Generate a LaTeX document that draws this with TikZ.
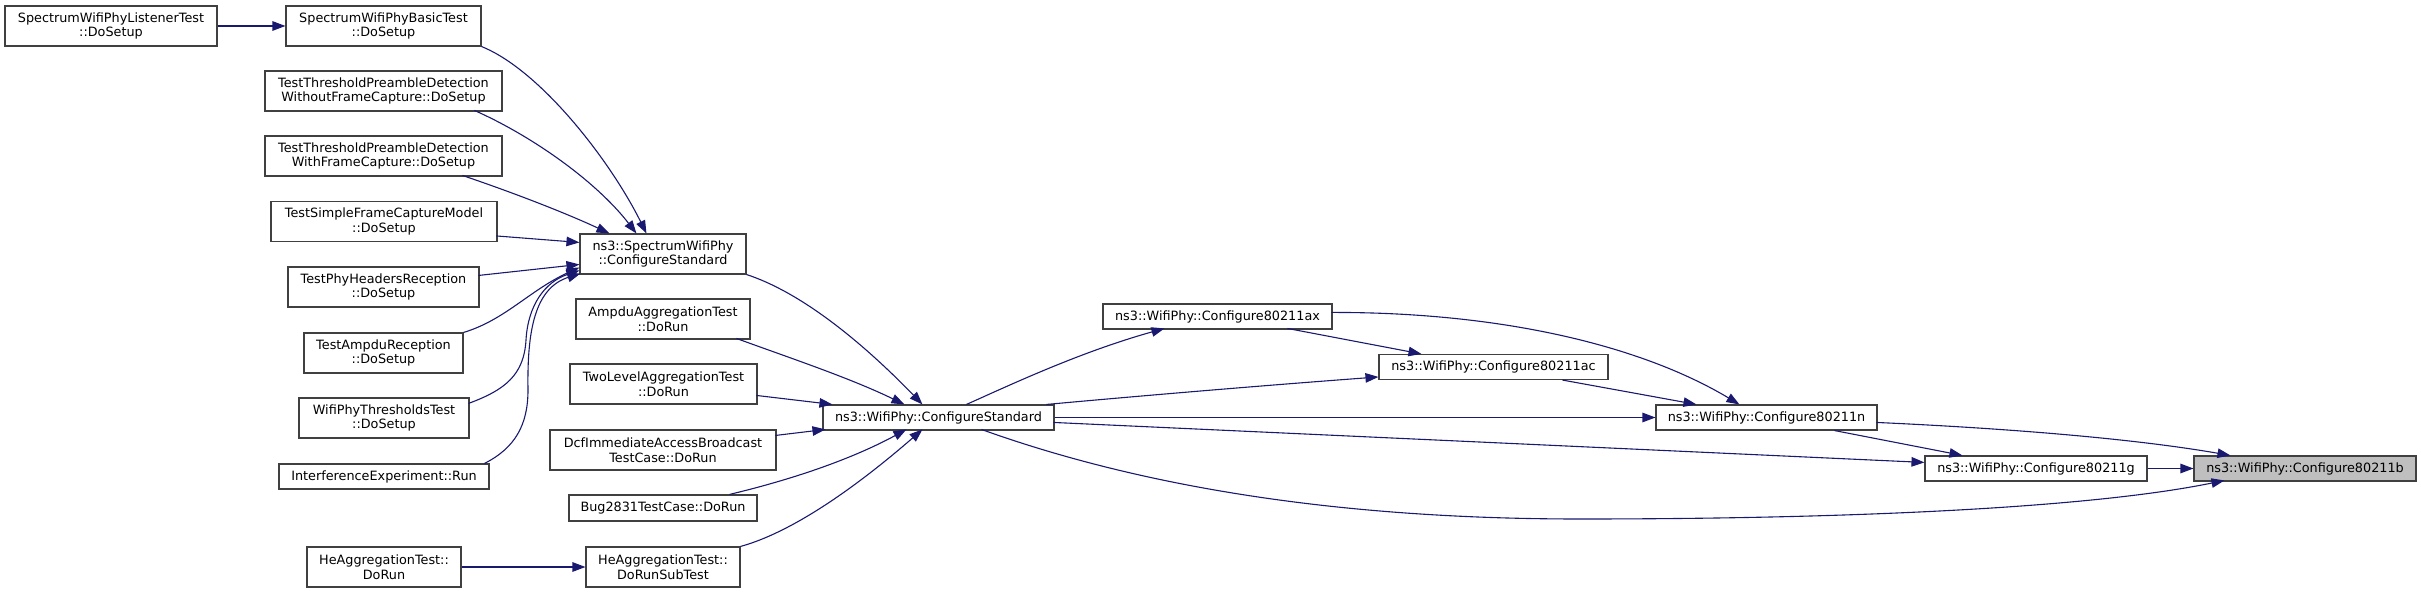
\documentclass[tikz,border=0pt]{standalone}
\usepackage{fontspec}
\setmainfont{DejaVu Sans}
\usetikzlibrary{arrows.meta,calc}
\definecolor{edgeblue}{RGB}{25,25,112}
\definecolor{boxline}{RGB}{64,64,64}
\definecolor{hlfill}{RGB}{191,191,191}
\tikzset{
  box/.style={draw=boxline, line width=1.1pt, fill=white, inner sep=0pt, align=center,
              font=\fontsize{12.8}{14.5}\selectfont},
  edge/.style={draw=edgeblue, line width=1.1pt, -{Triangle[length=13pt,width=9.5pt]}}
}
\begin{document}
\begin{tikzpicture}[x=1pt,y=-1pt]
\useasboundingbox (0,0) rectangle (2421,593);
% column 1
\node[box, minimum width=212pt, minimum height=40pt] (lis) at (111,26) {SpectrumWifiPhyListenerTest\\::DoSetup};
% column 2
\node[box, minimum width=195pt, minimum height=40pt] (basic) at (383.5,26) {SpectrumWifiPhyBasicTest\\::DoSetup};
\node[box, minimum width=237pt, minimum height=40pt] (wofc) at (383.5,91) {TestThresholdPreambleDetection\\WithoutFrameCapture::DoSetup};
\node[box, minimum width=237pt, minimum height=40pt] (wfc) at (383.5,156) {TestThresholdPreambleDetection\\WithFrameCapture::DoSetup};
\node[box, minimum width=226pt, minimum height=40pt] (simple) at (384,221.5) {TestSimpleFrameCaptureModel\\::DoSetup};
\node[box, minimum width=191pt, minimum height=40pt] (hdr) at (383.5,287) {TestPhyHeadersReception\\::DoSetup};
\node[box, minimum width=159pt, minimum height=40pt] (ampdurx) at (383.5,353) {TestAmpduReception\\::DoSetup};
\node[box, minimum width=170pt, minimum height=40pt] (thr) at (384,418) {WifiPhyThresholdsTest\\::DoSetup};
\node[box, minimum width=210pt, minimum height=25pt] (intf) at (384,476.5) {InterferenceExperiment::Run};
\node[box, minimum width=154pt, minimum height=40pt] (hedo) at (384,567) {HeAggregationTest::\\DoRun};
% column 3
\node[box, minimum width=166pt, minimum height=40pt] (spec) at (663,254) {ns3::SpectrumWifiPhy\\::ConfigureStandard};
\node[box, minimum width=174pt, minimum height=40pt] (ampagg) at (663,319) {AmpduAggregationTest\\::DoRun};
\node[box, minimum width=187pt, minimum height=40pt] (twolvl) at (663.5,384) {TwoLevelAggregationTest\\::DoRun};
\node[box, minimum width=226pt, minimum height=40pt] (dcf) at (663,450) {DcfImmediateAccessBroadcast\\TestCase::DoRun};
\node[box, minimum width=188pt, minimum height=26pt] (bug) at (663,508) {Bug2831TestCase::DoRun};
\node[box, minimum width=154pt, minimum height=40pt] (hesub) at (663,567) {HeAggregationTest::\\DoRunSubTest};
% right part
\node[box, minimum width=231pt, minimum height=25pt] (std) at (938.5,417.5) {ns3::WifiPhy::ConfigureStandard};
\node[box, minimum width=229pt, minimum height=25pt] (ax) at (1217.5,316.5) {ns3::WifiPhy::Configure80211ax};
\node[box, minimum width=229pt, minimum height=25pt] (ac) at (1493.5,367) {ns3::WifiPhy::Configure80211ac};
\node[box, minimum width=221pt, minimum height=25pt] (n) at (1766.5,417.5) {ns3::WifiPhy::Configure80211n};
\node[box, minimum width=222pt, minimum height=25pt] (g) at (2036,468.5) {ns3::WifiPhy::Configure80211g};
\node[box, fill=hlfill, minimum width=222pt, minimum height=25pt] (b) at (2305,468.5) {ns3::WifiPhy::Configure80211b};

% edges into spec
\draw[edge] (lis.east) -- (basic.west);
\draw[edge] (basic.south east) .. controls (540,70) and (610,160) .. ($(spec.north west)+(67,0)$);
\draw[edge] ($(wofc.north west)+(210,40)$) .. controls (530,135) and (595,180) .. ($(spec.north west)+(57,0)$);
\draw[edge] ($(wfc.north west)+(198,40)$) .. controls (520,195) and (570,215) .. ($(spec.north west)+(30,0)$);
\draw[edge] ($(simple.north west)+(226,35)$) -- ($(spec.north west)+(0,9)$);
\draw[edge] ($(hdr.north west)+(191,9)$) -- ($(spec.north west)+(0,31)$);
\draw[edge] (ampdurx.north east) .. controls (505,320) and (530,290) .. ($(spec.north west)+(0,34)$);
\draw[edge] ($(thr.north west)+(170,6)$) .. controls (505,390) and (524,375) .. (526,340) .. controls (528,305) and (545,282) .. ($(spec.north west)+(0,37)$);
\draw[edge] ($(intf.north west)+(206,0)$) .. controls (515,448) and (528,425) .. (528,390) .. controls (527,330) and (535,288) .. ($(spec.north west)+(1,40)$);
\draw[edge] (hedo.east) -- (hesub.west);

% edges into std
\draw[edge] (spec.south east) .. controls (800,292) and (860,340) .. ($(std.north west)+(100,0)$);
\draw[edge] ($(ampagg.north west)+(161,40)$) .. controls (790,358) and (850,378) .. ($(std.north west)+(82,0)$);
\draw[edge] ($(twolvl.north west)+(187,32)$) -- ($(std.north west)+(10,0)$);
\draw[edge] ($(dcf.north west)+(226,6)$) -- ($(std.north west)+(3,25)$);
\draw[edge] ($(bug.north west)+(161,0)$) .. controls (790,480) and (850,460) .. ($(std.north west)+(84,25)$);
\draw[edge] (hesub.north east) .. controls (800,530) and (870,475) .. ($(std.north west)+(100,25)$);

% edges out of std
\draw[edge] ($(std.north west)+(144,0)$) .. controls (1010,385) and (1080,352) .. ($(ax.north west)+(62,25)$);
\draw[edge] ($(std.north west)+(224,0)$) .. controls (1150,395) and (1270,385) .. ($(ac.north west)+(0,23)$);
\draw[edge] (std.east) -- (n.west);
\draw[edge] ($(std.north west)+(231,18)$) -- ($(g.north west)+(0,7)$);
\draw[edge] ($(std.north west)+(159,25)$) .. controls (1150,490) and (1350,519) .. (1580,519) .. controls (1850,519) and (2090,508) .. ($(b.north west)+(31,25)$);

% ax, ac, n, g
\draw[edge] ($(ax.north west)+(185,25)$) -- ($(ac.north west)+(43,0)$);
\draw[edge] ($(ax.north west)+(229,9)$) .. controls (1500,312) and (1640,345) .. ($(n.north west)+(84,0)$);
\draw[edge] ($(ac.south west)+(184,0)$) -- ($(n.north west)+(41,0)$);
\draw[edge] ($(n.south west)+(179,0)$) -- ($(g.north west)+(38,0)$);
\draw[edge] ($(n.north west)+(221,18)$) .. controls (2000,428) and (2130,438) .. ($(b.north west)+(37,0)$);
\draw[edge] (g.east) -- (b.west);
\end{tikzpicture}
\end{document}
